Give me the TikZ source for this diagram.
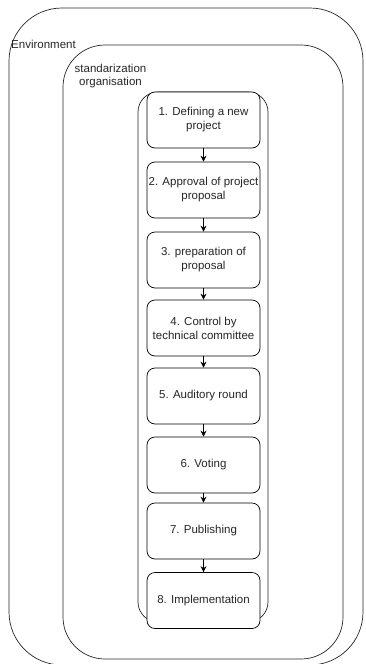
\documentclass[tikz,border=0pt]{standalone}
\usepackage{fontspec}
\setmainfont{Liberation Sans}
\usetikzlibrary{arrows.meta}
\tikzset{
  container/.style={draw=black!85, line width=0.7pt, inner sep=0pt},
  stepbox/.style={draw=black, line width=0.7pt, fill=white, rounded corners=8pt,
    minimum width=113pt, minimum height=56pt, inner sep=0pt, align=center,
    font=\fontsize{11.5pt}{14pt}\selectfont, text=black!85},
  caption/.style={inner sep=0pt, font=\fontsize{11.5pt}{13pt}\selectfont, text=black!85},
  flow/.style={draw=black, line width=0.7pt, -{Stealth[length=6pt,width=6pt]}}
}
\begin{document}
\begin{tikzpicture}[x=1pt,y=-1pt]
\useasboundingbox (0,0) rectangle (365,664);

% nested containers (the outermost one runs just past the lower edge)
\node[container, rounded corners=53pt, minimum width=354pt, minimum height=657pt] (env) at (186,336.5) {};
\node[container, rounded corners=42pt, minimum width=280pt, minimum height=614pt] (org) at (203,352) {};
\node[container, rounded corners=20pt, minimum width=130pt, minimum height=530pt] (lane) at (203,357) {};

\node[caption, anchor=west] (envlabel) at (11,44.5) {Environment};
\node[caption, align=center] (orglabel) at (110.5,76) {standarization\\organisation};

% process steps
\node[stepbox] (s1) at (203.5,120)   {1. Defining a new\\project};
\node[stepbox] (s2) at (203.5,190)   {2. Approval of project\\proposal};
\node[stepbox] (s3) at (203.5,260)   {3. preparation of\\proposal};
\node[stepbox] (s4) at (203.5,328)   {4. Control by\\technical committee};
\node[stepbox] (s5) at (203.5,396)   {5. Auditory round};
\node[stepbox] (s6) at (203.5,465)   {6. Voting};
\node[stepbox] (s7) at (203.5,531)   {7. Publishing};
\node[stepbox] (s8) at (203.5,600.5) {8. Implementation};

\foreach \a/\b in {s1/s2,s2/s3,s3/s4,s4/s5,s5/s6,s6/s7,s7/s8}
  \draw[flow] (\a.south) -- (\b.north);
\end{tikzpicture}
\end{document}
